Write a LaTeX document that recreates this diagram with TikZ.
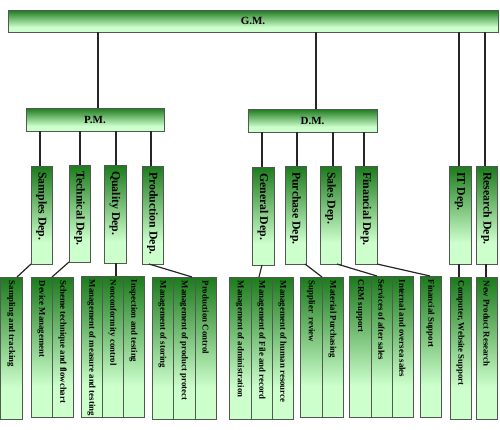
\documentclass[tikz,border=0pt]{standalone}
\usepackage{fontspec}
\setmainfont{Liberation Serif}
\definecolor{dkg}{RGB}{28,122,28}
\definecolor{ltg}{RGB}{204,255,204}
\definecolor{bordc}{RGB}{80,90,80}
\pgfdeclareverticalshading{gsh}{100bp}{color(0bp)=(ltg); color(36bp)=(ltg); color(75bp)=(dkg); color(100bp)=(dkg)}
\tikzset{
  bx/.style={draw=bordc, line width=0.8pt, shade, shading=gsh, anchor=north west, inner sep=0pt, outer sep=0pt},
  conn/.style={draw=black!85, line width=1.2pt},
  toptext/.style={font=\bfseries\fontsize{11}{12}\selectfont},
  deptext/.style={font=\bfseries\fontsize{11.8}{12}\selectfont, rotate=-90, anchor=west, inner sep=0pt},
  leaftext/.style={font=\bfseries\fontsize{8.8}{10}\selectfont, rotate=-90, anchor=west, inner sep=0pt},
}
\newcommand{\bxnode}[5]{\node[bx, minimum width=#4pt, minimum height=#5pt] (#1) at (#2,#3) {};}
\newcommand{\deplab}[2]{\node[deptext] (#1t) at ([yshift=-6pt]#1.north) {#2};}
\newcommand{\leaflab}[2]{\node[leaftext] (#1t) at ([yshift=-3.5pt]#1.north) {#2};}
\begin{document}
\begin{tikzpicture}[x=1pt,y=-1pt]
\fill[white] (0,0) rectangle (500,429);
\useasboundingbox (0,0) rectangle (500,429);
% top
\bxnode{gm}{8}{10}{490}{22}
\node[toptext] (gmt) at (gm.center) {G.M.};
\bxnode{pm}{26}{108}{138}{23}
\node[toptext] (pmt) at (pm.center) {P.M.};
\bxnode{dm}{248}{109}{129}{23}
\node[toptext] (dmt) at (dm.center) {D.M.};
% departments
\bxnode{dsamp}{31}{166}{21}{98}
\bxnode{dtech}{69}{165}{21}{97}
\bxnode{dqual}{104}{165}{22}{98}
\bxnode{dprod}{142}{166}{21}{98}
\bxnode{dgen}{252}{167}{22}{98}
\bxnode{dpur}{285}{166}{21}{98}
\bxnode{dsale}{320}{166}{21}{98}
\bxnode{dfin}{355}{166}{22}{98}
\bxnode{dit}{449}{166}{22}{98}
\bxnode{dres}{476}{166}{21}{98}
\deplab{dsamp}{Samples Dep.}
\deplab{dtech}{Technical Dep.}
\deplab{dqual}{Quality Dep.}
\deplab{dprod}{Production Dep.}
\deplab{dgen}{General Dep.}
\deplab{dpur}{Purchase Dep.}
\deplab{dsale}{Sales Dep.}
\deplab{dfin}{Financial Dep.}
\deplab{dit}{IT Dep.}
\deplab{dres}{Research Dep.}
% leaves
\bxnode{l1}{0.5}{277}{21.5}{142}
\bxnode{l2}{31}{277}{21}{140}
\bxnode{l3}{52}{277}{21}{140}
\bxnode{l4}{81}{276}{21}{141}
\bxnode{l5}{102}{276}{21}{141}
\bxnode{l6}{123}{276}{21}{141}
\bxnode{l7}{152}{277}{21}{142}
\bxnode{l8}{173}{277}{22}{142}
\bxnode{l9}{195}{277}{21}{142}
\bxnode{l10}{229}{277}{22}{142}
\bxnode{l11}{251}{277}{21}{142}
\bxnode{l12}{272}{277}{21}{142}
\bxnode{l13}{300}{277}{22}{140}
\bxnode{l14}{322}{277}{21}{140}
\bxnode{l15}{349}{276}{22}{141}
\bxnode{l16}{371}{276}{21}{141}
\bxnode{l17}{392}{276}{21}{141}
\bxnode{l18}{420}{276}{21}{141}
\bxnode{l19}{450}{277}{21}{142}
\bxnode{l20}{476}{277}{21}{142}
\leaflab{l1}{Sampling and tracking}
\leaflab{l2}{Device Management}
\leaflab{l3}{Scheme technique and flowchart}
\leaflab{l4}{Management of measure and testing}
\leaflab{l5}{Nonconformity control}
\leaflab{l6}{Inspection and testing}
\leaflab{l7}{Management of storing}
\leaflab{l8}{Management of product protect}
\leaflab{l9}{Production Control}
\leaflab{l10}{Management of administration}
\leaflab{l11}{Management of File and record}
\leaflab{l12}{Management of human resource}
\leaflab{l13}{Supplier\ \ review}
\leaflab{l14}{Material Purchasing}
\leaflab{l15}{CRM support}
\leaflab{l16}{Services of after sales}
\leaflab{l17}{Internal and oversea sales}
\leaflab{l18}{Financial Support}
\leaflab{l19}{Computer, Website Support}
\leaflab{l20}{New Product Research}
% connectors top
\draw[conn] (gm.south -| 98,0) -- (pm.north -| 98,0);
\draw[conn] (gm.south -| 316,0) -- (dm.north -| 316,0);
\draw[conn] (gm.south -| 459,0) -- (dit.north -| 459,0);
\draw[conn] (gm.south -| 485,0) -- (dres.north -| 485,0);
\draw[conn] (pm.south -| 40,0) -- (dsamp.north -| 40,0);
\draw[conn] (pm.south -| 80,0) -- (dtech.north -| 80,0);
\draw[conn] (pm.south -| 116,0) -- (dqual.north -| 116,0);
\draw[conn] (pm.south -| 151,0) -- (dprod.north -| 151,0);
\draw[conn] (dm.south -| 262,0) -- (dgen.north -| 262,0);
\draw[conn] (dm.south -| 297,0) -- (dpur.north -| 297,0);
\draw[conn] (dm.south -| 333,0) -- (dsale.north -| 333,0);
\draw[conn] (dm.south -| 364,0) -- (dfin.north -| 364,0);
% connectors to leaves
\draw[conn] (dsamp.south west) -- (l1.north -| 17,0);
\draw[conn] (dtech.south west) -- (l2.north east);
\draw[conn] (dqual.south -| 116,0) -- (l5.north -| 116,0);
\draw[conn] (dprod.south -| 149,0) -- (l9.north -| 192,0);
\draw[conn] (dgen.south -| 262,0) -- (l11.north -| 259,0);
\draw[conn] (dpur.south -| 305,0) -- (l14.north west);
\draw[conn] (dsale.south -| 337,0) -- (l16.north -| 377,0);
\draw[conn] (dfin.south east) -- (l18.north -| 430,0);
\draw[conn] (dit.south -| 459,0) -- (l19.north -| 459,0);
\draw[conn] (dres.south -| 486,0) -- (l20.north -| 486,0);
\end{tikzpicture}
\end{document}
